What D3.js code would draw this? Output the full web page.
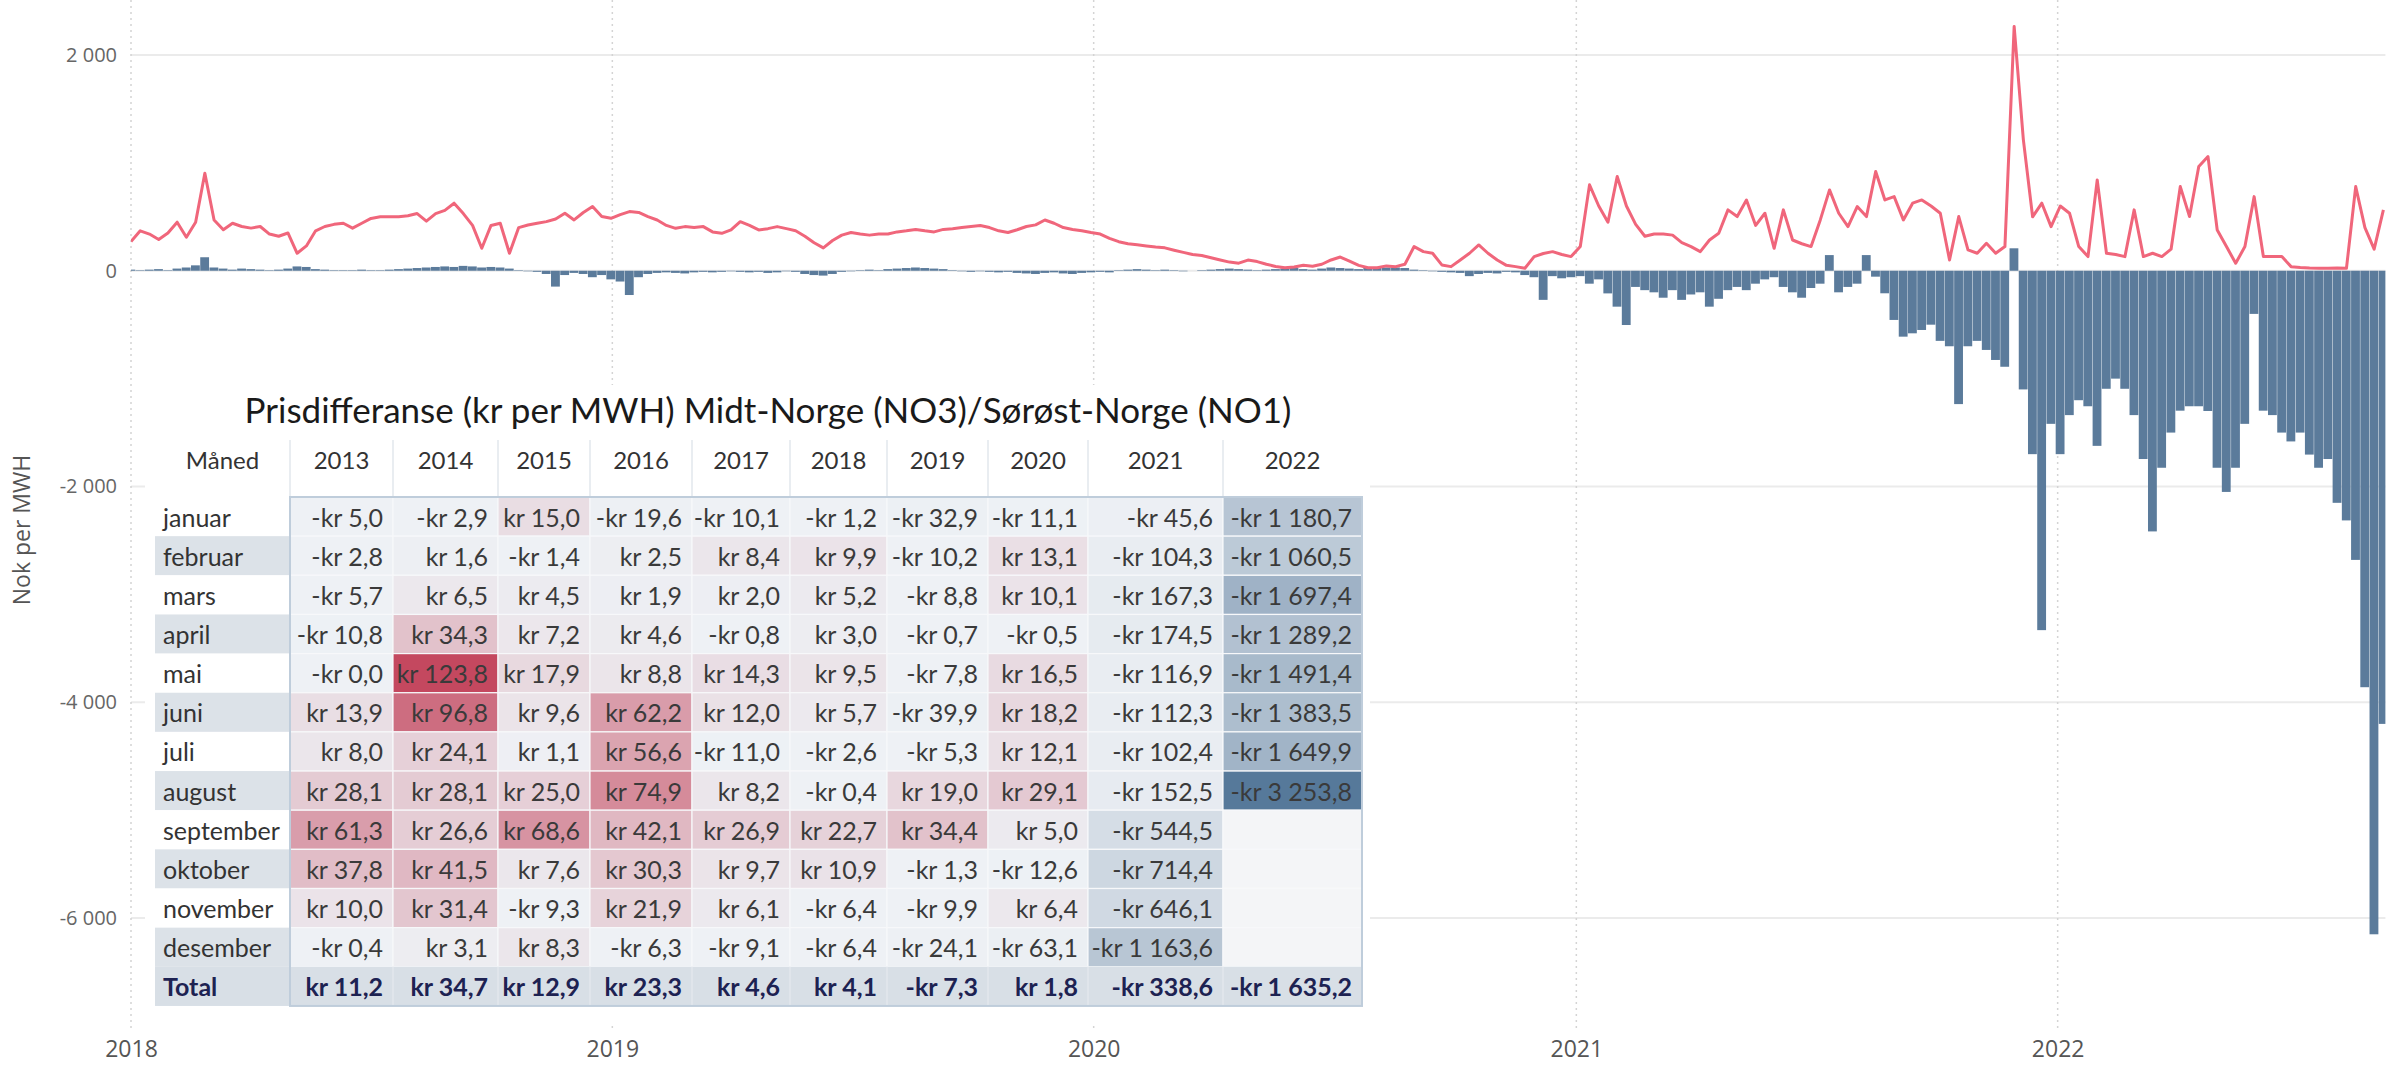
<!DOCTYPE html>
<html><head><meta charset="utf-8">
<script src="https://cdn.jsdelivr.net/npm/d3@7"></script>
<style>
body{margin:0;background:#fff;}
svg{display:block;}
</style></head><body>
<svg id="chart" width="2399" height="1065"></svg>
<script>
// ---------- DATA ----------
const seriesStart = "2018-01-01";   // weekly samples
const stepDays = 7;
// red line: price (NOK per MWh), one value per week
const priceLine = [
 270,370,340,290,350,450,310,450,904,470, 380,440,410,395,410,340,320,350,162,230,
 370,410,430,440,395,440,485,500,500,500, 510,530,460,530,560,626,530,420,208,420,
 440,162,400,424,440,455,480,533,471,540, 595,502,486,
 520,548,540,502,470,420,393,409,400,409, 360,347,378,455,420,378,390,409,390,370,
 320,260,212,280,330,354,340,330,340,340, 360,370,383,370,360,383,390,400,411,420,
 400,370,354,380,410,425,470,440,400,383, 370,354,
 340,300,269,250,240,230,220,212,190,170, 150,141,120,100,80,70,99,85,60,40,
 28,35,50,42,60,100,127,90,50,28, 28,45,38,60,224,177,162,54,38,100,
 162,239,162,100,50,38,23,131,160,177, 150,131,
 224,796,600,450,873,600,430,320,340,340, 330,260,224,177,285,347,564,502,656,420,
 533,208,564,285,250,224,471,749,533,409, 595,502,919,656,687,471,626,656,600,533,
 100,502,193,162,254,162,224,2264,1213,500, 626,409,
 600,533,224,131,842,162,150,131,564,131, 162,131,200,780,502,966,1058,378,224,69,
 224,687,131,131,131,38,30,25,23,23, 25,23,780,400,200,564
];
// blue bars: price difference NO3 - NO1 (NOK per MWh), one value per week
const diffBars = [
 10,5,10,15,5,20,30,50,125,30, 20,10,20,15,10,5,10,20,40,35,
 15,10,5,5,5,10,5,5,10,15, 20,25,30,35,40,35,45,40,30,35,
 30,20,5,-5,-10,-30,-147,-40,-20,-30, -60,-40,-80,
 -100,-225,-60,-30,-20,-15,-20,-25,-15,-10, -15,-10,-5,-10,-15,-10,-20,-15,-5,-10,
 -30,-40,-45,-30,-10,-5,5,10,5,15, 20,25,30,25,20,15,5,-5,-10,-5,
 -10,-15,-10,-20,-25,-30,-20,-15,-25,-30, -20,-15,
 -10,-15,5,10,15,10,5,10,5,-5, 0,5,10,15,20,15,10,5,10,15,
 20,25,15,10,20,30,25,20,15,30, 35,30,30,25,10,5,-5,-10,-15,-20,
 -50,-30,-20,-25,-10,-15,-40,-60,-270,-50, -70,-60,
 -50,-120,-80,-210,-333,-503,-150,-180,-200,-250, -180,-270,-220,-200,-333,-260,-180,-150,-180,-120,
 -80,-60,-150,-200,-250,-160,-120,145,-200,-150, -120,145,-55,-209,-456,-611,-580,-549,-500,-650,
 -700,-1236,-700,-650,-734,-827,-890,208,-1100,-1700, -3331,-1419,
 -1700,-1338,-1200,-1256,-1623,-1094,-1000,-1094,-1338,-1745, -2416,-1826,-1500,-1297,-1256,-1256,-1300,-1826,-2050,-1826,
 -1419,-400,-1297,-1338,-1500,-1582,-1500,-1704,-1826,-1745, -2151,-2314,-2680,-3860,-6150,-4200
];
const yTickValues = [-6000, -4000, -2000, 0, 2000];
const xTickYears = ["2018", "2019", "2020", "2021", "2022"];
const yAxisTitle = "Nok per MWH";

// table
const tableTitle = "Prisdifferanse (kr per MWH) Midt-Norge (NO3)/Sørøst-Norge (NO1)";
const monthHeader = "Måned";
const months = ["januar","februar","mars","april","mai","juni","juli","august","september","oktober","november","desember"];
const tableYears = ["2013","2014","2015","2016","2017","2018","2019","2020","2021","2022"];
const y2013 = [-5.0,-2.8,-5.7,-10.8,-0.0,13.9,8.0,28.1,61.3,37.8,10.0,-0.4];
const y2014 = [-2.9,1.6,6.5,34.3,123.8,96.8,24.1,28.1,26.6,41.5,31.4,3.1];
const y2015 = [15.0,-1.4,4.5,7.2,17.9,9.6,1.1,25.0,68.6,7.6,-9.3,8.3];
const y2016 = [-19.6,2.5,1.9,4.6,8.8,62.2,56.6,74.9,42.1,30.3,21.9,-6.3];
const y2017 = [-10.1,8.4,2.0,-0.8,14.3,12.0,-11.0,8.2,26.9,9.7,6.1,-9.1];
const y2018 = [-1.2,9.9,5.2,3.0,9.5,5.7,-2.6,-0.4,22.7,10.9,-6.4,-6.4];
const y2019 = [-32.9,-10.2,-8.8,-0.7,-7.8,-39.9,-5.3,19.0,34.4,-1.3,-9.9,-24.1];
const y2020 = [-11.1,13.1,10.1,-0.5,16.5,18.2,12.1,29.1,5.0,-12.6,6.4,-63.1];
const y2021 = [-45.6,-104.3,-167.3,-174.5,-116.9,-112.3,-102.4,-152.5,-544.5,-714.4,-646.1,-1163.6];
const y2022 = [-1180.7,-1060.5,-1697.4,-1289.2,-1491.4,-1383.5,-1649.9,-3253.8,null,null,null,null];
const totalLabel = "Total";
const totals = [11.2,34.7,12.9,23.3,4.6,4.1,-7.3,1.8,-338.6,-1635.2];
const yearColumns = [y2013,y2014,y2015,y2016,y2017,y2018,y2019,y2020,y2021,y2022];

// ---------- RENDER ----------
const svg = d3.select("#chart");
const parse = d3.utcParse("%Y-%m-%d");
const t0 = parse(seriesStart);
const pts = priceLine.map((v, i) => ({ date: d3.utcDay.offset(t0, i * stepDays), price: v, diff: diffBars[i] }));

const x = d3.scaleUtc().domain([parse("2018-01-01"), parse("2023-01-01")]).range([131, 2539]);
const y = d3.scaleLinear().domain([-7000, 2500]).range([1026, 1]);
const plotL = 131, plotR = x(pts[pts.length - 1].date) + 2, plotB = 1030;

const locale = d3.formatLocale({decimal: ",", thousands: " ", grouping: [3], currency: ["", ""], minus: "-"});
const fmtInt = locale.format(",d");
const fmt1 = locale.format(",.1f");

// grid
svg.append("g").selectAll("line").data(yTickValues).join("line")
  .attr("x1", plotL).attr("x2", plotR)
  .attr("y1", d => y(d)).attr("y2", d => y(d))
  .attr("stroke", "#ebebeb").attr("stroke-width", 2);
const yearDates = xTickYears.map(s => parse(s + "-01-01"));
svg.append("g").selectAll("line").data(yearDates).join("line")
  .attr("x1", d => x(d)).attr("x2", d => x(d))
  .attr("y1", 0).attr("y2", plotB)
  .attr("stroke", "#d4d4d4").attr("stroke-width", 1.5).attr("stroke-dasharray", "2,4");

// axes
const yAxis = svg.append("g").attr("transform", "translate(121,0)")
  .call(d3.axisLeft(y).tickValues(yTickValues).tickFormat(fmtInt).tickSize(0).tickPadding(4));
yAxis.select(".domain").remove();
yAxis.selectAll("text").attr("font-family", "'Open Sans', sans-serif").attr("font-size", 20).attr("fill", "#666");

const xAxis = svg.append("g").attr("transform", `translate(0,${plotB})`)
  .call(d3.axisBottom(x).tickValues(yearDates).tickFormat(d3.utcFormat("%Y")).tickSize(0).tickPadding(11));
xAxis.select(".domain").remove();
xAxis.selectAll("text").attr("font-family", "'Open Sans', sans-serif").attr("font-size", 23).attr("fill", "#555");

svg.append("text")
  .attr("transform", "translate(30,530) rotate(-90)")
  .attr("text-anchor", "middle")
  .attr("font-family", "'Open Sans', sans-serif").attr("font-size", 23).attr("fill", "#555")
  .text(yAxisTitle);

// clip
svg.append("clipPath").attr("id", "plotclip").append("rect")
  .attr("x", plotL).attr("y", 0).attr("width", plotR - plotL).attr("height", plotB);

const plot = svg.append("g").attr("clip-path", "url(#plotclip)");
const half = stepDays / 2;
plot.append("g").selectAll("rect").data(pts).join("rect")
  .attr("x", d => x(d3.utcHour.offset(d.date, -half * 24)))
  .attr("width", d => Math.max(0.5, x(d3.utcHour.offset(d.date, half * 24)) - x(d3.utcHour.offset(d.date, -half * 24)) - 0.4))
  .attr("y", d => y(Math.max(0, d.diff)))
  .attr("height", d => Math.abs(y(d.diff) - y(0)))
  .attr("fill", "#5b7b9b");

plot.append("path").datum(pts)
  .attr("fill", "none").attr("stroke", "#f0667b").attr("stroke-width", 3)
  .attr("stroke-linejoin", "round")
  .attr("d", d3.line().x(d => x(d.date)).y(d => y(d.price)));

// ---------- TABLE ----------
const colW = [135,103,105,92,102,98,97,101,100,135,139];
const tableX = 155;
const colEdges = [tableX];
colW.forEach(w => colEdges.push(colEdges[colEdges.length - 1] + w));
const headerTop = 440, bodyTop = 497, rowH = 39.15;

const tbl = svg.append("g");
tbl.append("rect").attr("x", 145).attr("y", 385).attr("width", 1225).attr("height", 637).attr("fill", "#fff");

const title = tbl.append("text")
  .attr("x", 768).attr("y", 423).attr("text-anchor", "middle")
  .attr("font-family", "Lato, sans-serif").attr("font-size", 34).attr("fill", "#1a1a1a")
  .text(tableTitle);
const tw = title.node().getComputedTextLength();
title.attr("font-size", 34 * 1047 / tw);

// header
tbl.append("g").selectAll("line").data(colEdges.slice(1, -1)).join("line")
  .attr("x1", d => d).attr("x2", d => d).attr("y1", headerTop).attr("y2", bodyTop)
  .attr("stroke", "#e2e7ec").attr("stroke-width", 1.5);
const headers = [monthHeader].concat(tableYears);
tbl.append("g").selectAll("text").data(headers).join("text")
  .attr("x", (d, i) => (colEdges[i] + colEdges[i + 1]) / 2)
  .attr("y", 469).attr("text-anchor", "middle")
  .attr("font-family", "Lato, sans-serif").attr("font-size", 24).attr("fill", "#333")
  .text(d => d);

const neg = d3.scaleLinear().domain([-3253.8, 0]).range(["#56799a", "#eef1f5"]);
const pos = d3.scaleLinear().domain([0, 123.8]).range(["#eef1f5", "#c4485f"]);
const cellColor = v => v == null ? "#f4f5f7" : (v < 0 ? neg(v) : pos(v));
const fmtKr = v => v == null ? "" : ((v < 0 || Object.is(v, -0)) ? "-kr " : "kr ") + fmt1(Math.abs(v));

const rowsG = tbl.append("g");
months.forEach((m, r) => {
  const ry = bodyTop + r * rowH;
  rowsG.append("rect").attr("x", colEdges[0]).attr("y", ry).attr("width", colW[0]).attr("height", rowH)
    .attr("fill", r % 2 === 1 ? "#dce2e8" : "#ffffff");
  rowsG.append("text").attr("x", colEdges[0] + 8).attr("y", ry + 29.5)
    .attr("font-family", "Lato, sans-serif").attr("font-size", 25).attr("fill", "#333").text(m);
  yearColumns.forEach((col, c) => {
    const v = col[r];
    rowsG.append("rect").attr("x", colEdges[c + 1]).attr("y", ry).attr("width", colW[c + 1]).attr("height", rowH)
      .attr("fill", cellColor(v)).attr("stroke", "#f7f8fa").attr("stroke-width", 1.2);
    rowsG.append("text").attr("x", colEdges[c + 2] - 10).attr("y", ry + 29.5).attr("text-anchor", "end")
      .attr("font-family", "Lato, sans-serif").attr("font-size", 25).attr("fill", "#3a3a3a").text(fmtKr(v));
  });
});
// totals row
const ty = bodyTop + months.length * rowH;
rowsG.append("rect").attr("x", colEdges[0]).attr("y", ty).attr("width", colEdges[colEdges.length - 1] - colEdges[0]).attr("height", rowH)
  .attr("fill", "#d8dfe6");
rowsG.append("g").selectAll("line").data(colEdges.slice(2, -1)).join("line")
  .attr("x1", d => d).attr("x2", d => d).attr("y1", ty).attr("y2", ty + rowH)
  .attr("stroke", "#e6eaef").attr("stroke-width", 1.2);
rowsG.append("text").attr("x", colEdges[0] + 8).attr("y", ty + 29.5)
  .attr("font-family", "Lato, sans-serif").attr("font-size", 25).attr("font-weight", 700).attr("fill", "#1d2252").text(totalLabel);
totals.forEach((v, c) => {
  rowsG.append("text").attr("x", colEdges[c + 2] - 10).attr("y", ty + 29.5).attr("text-anchor", "end")
    .attr("font-family", "Lato, sans-serif").attr("font-size", 25).attr("font-weight", 700).attr("fill", "#1d2252").text(fmtKr(v));
});
// data area border
tbl.append("rect").attr("x", colEdges[1]).attr("y", bodyTop)
  .attr("width", colEdges[colEdges.length - 1] - colEdges[1]).attr("height", rowH * (months.length + 1))
  .attr("fill", "none").attr("stroke", "#bfcddb").attr("stroke-width", 2);
</script>
</body></html>
